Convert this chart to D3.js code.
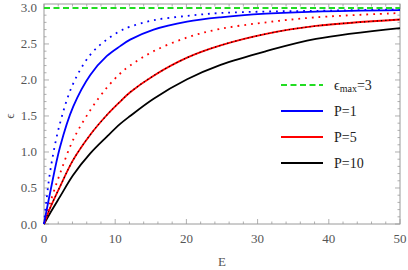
<!DOCTYPE html>
<html>
<head>
<meta charset="utf-8">
<script src="https://cdn.jsdelivr.net/npm/d3@7"></script>
<style>
  body { margin: 0; background: #fff; }
</style>
</head>
<body>
<svg width="408" height="270" font-family="'Liberation Serif', 'DejaVu Serif', serif"></svg>
<script>
// values
var energy     = [0, 0.85, 2.25, 4.1, 6.5, 8.8, 10.7, 12.1, 15.4, 20.1, 24.8, 31.2, 38.2, 50];
var blueSolid  = [0, 0.43, 1.07, 1.63, 2.07, 2.33, 2.47, 2.56, 2.70, 2.81, 2.87, 2.92, 2.95, 2.97];
var blueDot    = [0, 0.72, 1.40, 1.95, 2.35, 2.56, 2.68, 2.74, 2.83, 2.89, 2.93, 2.95, 2.96, 2.98];
var redSolid   = [0, 0.22, 0.52, 0.89, 1.24, 1.51, 1.70, 1.83, 2.06, 2.31, 2.48, 2.64, 2.75, 2.84];
var redDot     = [0, 0.29, 0.70, 1.17, 1.58, 1.89, 2.09, 2.20, 2.40, 2.59, 2.71, 2.80, 2.87, 2.93];
var blackSolid = [0, 0.15, 0.38, 0.68, 0.98, 1.21, 1.39, 1.50, 1.74, 2.01, 2.21, 2.40, 2.57, 2.72];
var blackDot   = [0, 0.22, 0.52, 0.89, 1.24, 1.51, 1.70, 1.83, 2.06, 2.31, 2.48, 2.64, 2.75, 2.84];
var epsMax = 3;
var xTicks = [0, 10, 20, 30, 40, 50];
var yTicks = [0, 0.5, 1, 1.5, 2, 2.5, 3];
var legendNames = ["P=1", "P=5", "P=10"];
var legendColors = ["#0000ff", "#ff0000", "#000000"];

var svg = d3.select("svg");
var x = d3.scaleLinear().domain([0, 50]).range([44, 400]);
var y = d3.scaleLinear().domain([0, 3.055]).range([224, 4]);
var gray = "#9a9a9a";

// frame
svg.append("rect")
    .attr("x", 44).attr("y", 4)
    .attr("width", 356).attr("height", 220)
    .attr("fill", "none").attr("stroke", gray).attr("stroke-width", 1);

// ticks on every side, pointing inward
var xMinor = d3.range(0, 50.01, 2);
var yMinor = d3.range(0, 3.01, 0.1);
function isMajorX(v) { return Math.abs(v / 10 - Math.round(v / 10)) < 1e-6; }
function isMajorY(v) { return Math.abs(v / 0.5 - Math.round(v / 0.5)) < 1e-6; }
var tg = svg.append("g").attr("stroke", gray).attr("stroke-width", 0.8);
xMinor.forEach(function (v) {
    var len = isMajorX(v) ? 5 : 2.5;
    tg.append("line").attr("x1", x(v)).attr("x2", x(v)).attr("y1", 224).attr("y2", 224 - len);
    tg.append("line").attr("x1", x(v)).attr("x2", x(v)).attr("y1", 4).attr("y2", 4 + len);
});
yMinor.forEach(function (v) {
    var len = isMajorY(v) ? 5 : 2.5;
    tg.append("line").attr("y1", y(v)).attr("y2", y(v)).attr("x1", 44).attr("x2", 44 + len);
    tg.append("line").attr("y1", y(v)).attr("y2", y(v)).attr("x1", 400).attr("x2", 400 - len);
});

// tick labels
svg.append("g").selectAll("text").data(xTicks).enter().append("text")
    .attr("x", function (d) { return x(d); })
    .attr("y", 243)
    .attr("text-anchor", "middle")
    .attr("font-size", 13).attr("fill", "#555")
    .text(function (d) { return d; });
svg.append("g").selectAll("text").data(yTicks).enter().append("text")
    .attr("x", 37)
    .attr("y", function (d) { return y(d) + 4.5; })
    .attr("text-anchor", "end")
    .attr("font-size", 13).attr("fill", "#555")
    .text(function (d) { return d3.format(".1f")(d); });

// axis labels
svg.append("text").attr("x", 222).attr("y", 266)
    .attr("text-anchor", "middle").attr("font-size", 13).attr("fill", "#555")
    .text("E");
svg.append("text").attr("transform", "translate(14,116) rotate(-90)")
    .attr("text-anchor", "middle").attr("font-size", 13).attr("fill", "#555")
    .text("ϵ");

// curves
var line = d3.line()
    .x(function (d) { return x(d[0]); })
    .y(function (d) { return y(d[1]); })
    .curve(d3.curveCatmullRom.alpha(0.5));
function draw(vals, color, width, dash) {
    var pts = energy.map(function (e, i) { return [e, vals[i]]; });
    svg.append("path").datum(pts)
        .attr("d", line)
        .attr("fill", "none")
        .attr("stroke", color)
        .attr("stroke-width", width)
        .attr("stroke-dasharray", dash);
}
draw(blackSolid, "#000000", 1.8, null);
draw(redSolid, "#ff0000", 1.8, null);
draw(blackDot, "#000000", 1.2, "1.2,3");
draw(redDot, "#ff0000", 1.8, "1.8,5");
draw(blueSolid, "#0000ff", 1.8, null);
draw(blueDot, "#0000ff", 1.8, "1.8,5");

// epsilon max line
svg.append("line")
    .attr("x1", x(0)).attr("x2", x(50))
    .attr("y1", y(epsMax)).attr("y2", y(epsMax))
    .attr("stroke", "#22dd22").attr("stroke-width", 2)
    .attr("stroke-dasharray", "6,3.5");

// legend
var lg = svg.append("g");
lg.append("line").attr("x1", 281).attr("x2", 323).attr("y1", 85).attr("y2", 85)
    .attr("stroke", "#22dd22").attr("stroke-width", 2).attr("stroke-dasharray", "6,3.5");
var t0 = lg.append("text").attr("x", 334).attr("y", 90).attr("font-size", 14).attr("fill", "#222");
t0.append("tspan").text("ϵ");
t0.append("tspan").attr("font-size", 10).attr("dy", 2).text("max");
t0.append("tspan").attr("dy", -2).text("=3");
legendNames.forEach(function (n, i) {
    var yy = 111 + i * 26;
    lg.append("line").attr("x1", 281).attr("x2", 323).attr("y1", yy).attr("y2", yy)
        .attr("stroke", legendColors[i]).attr("stroke-width", 2);
    lg.append("text").attr("x", 334).attr("y", yy + 5).attr("font-size", 14).attr("fill", "#222")
        .text(n);
});
</script>
</body>
</html>
